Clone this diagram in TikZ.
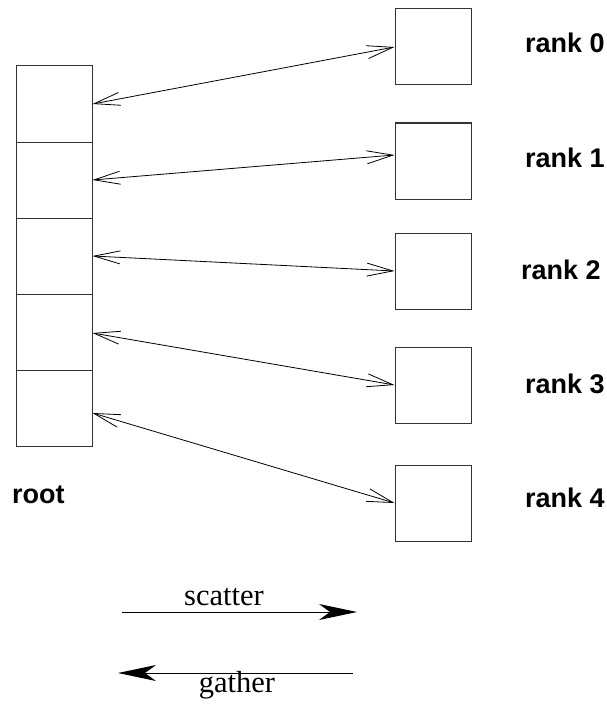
\documentclass[tikz,border=0pt]{standalone}
\usepackage{fontspec}
\setmainfont{Liberation Serif}
\newfontfamily\labfont{Liberation Sans}
\usetikzlibrary{arrows.meta}
\begin{document}
\begin{tikzpicture}[x=1pt,y=-1pt,
  cell/.style={draw=black!80,line width=1pt,minimum width=76pt,minimum height=76pt,inner sep=0pt},
  rankbox/.style={draw=black!80,line width=1pt,minimum width=76pt,minimum height=76pt,inner sep=0pt},
  lab/.style={font=\labfont\bfseries\fontsize{27}{30}\selectfont,anchor=base west,inner sep=0pt},
  dbl/.style={line width=0.8pt,{Straight Barb[length=26pt,width=13pt]}-{Straight Barb[length=26pt,width=13pt]}},
  bigarr/.style={line width=1pt,-{Stealth[length=38pt,width=16pt,inset=11pt]}},
  captext/.style={font=\fontsize{30.5}{34}\selectfont,anchor=base,inner sep=0pt}]
\useasboundingbox (0,0) rectangle (607,706);
\node[cell] (c0) at (54,104) {};
\node[cell] (c1) at (54,180) {};
\node[cell] (c2) at (54,256) {};
\node[cell] (c3) at (54,332) {};
\node[cell] (c4) at (54,408) {};
\node[rankbox] (r0) at (433,47) {};
\node[rankbox] (r1) at (433,161) {};
\node[rankbox] (r2) at (433,271) {};
\node[rankbox] (r3) at (433,385) {};
\node[rankbox] (r4) at (433,503) {};
\draw[dbl] (c0.east) -- (r0.west);
\draw[dbl] (c1.east) -- ([yshift=6pt]r1.west);
\draw[dbl] (c2.east) -- (r2.west);
\draw[dbl] ([yshift=-1pt]c3.east) -- (r3.west);
\draw[dbl] ([yshift=-5pt]c4.east) -- (r4.west);
\node[lab] (l0) at (525,53) {rank 0};
\node[lab] (l1) at (525,167) {rank 1};
\node[lab] (l2) at (521,279) {rank 2};
\node[lab] (l3) at (525,393) {rank 3};
\node[lab] (l4) at (525,507) {rank 4};
\node[lab] (root) at (12,503) {root};
\coordinate (s1) at (122,612);
\coordinate (s2) at (357,612);
\coordinate (g1) at (353,673);
\coordinate (g2) at (118,673);
\draw[bigarr] (s1) -- (s2);
\draw[bigarr] (g1) -- (g2);
\node[captext] (sc) at (224,605) {scatter};
\node[captext] (ga) at (237,692) {gather};
\end{tikzpicture}
\end{document}
